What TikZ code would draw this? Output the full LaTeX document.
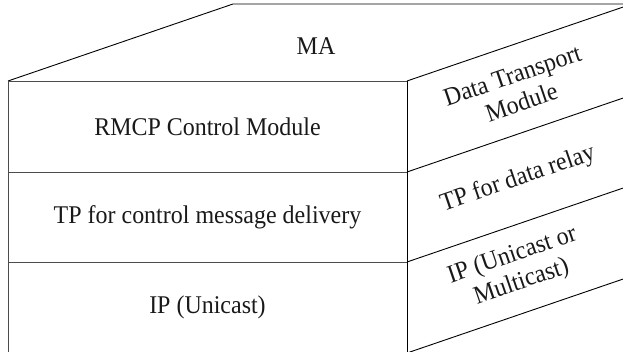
\documentclass[tikz,border=0pt]{standalone}
\usepackage{fontspec}
\setmainfont{Liberation Serif}[FakeStretch=0.94]
\begin{document}
\begin{tikzpicture}[x=1pt,y=-1pt,
  edge/.style={draw=black, line width=0.9pt},
  softedge/.style={draw=black!70, line width=0.9pt},
  label/.style={font=\fontsize{25.5}{28.5}\selectfont, inner sep=0pt, align=center, text=black!90}]
  \useasboundingbox (0,0) rectangle (623,352);
  \clip (0,0) rectangle (623,352);

  % depth vector of the block: (225,-77)
  \coordinate (ftl) at (8,81);
  \coordinate (ftr) at (407,81);
  \coordinate (fbl) at (8,353);
  \coordinate (fbr) at (407,353);
  \coordinate (f1l) at (8,172);
  \coordinate (f1r) at (407,172);
  \coordinate (f2l) at (8,262);
  \coordinate (f2r) at (407,262);
  \coordinate (btl) at (233,4);
  \coordinate (btr) at (632,4);
  \coordinate (b1r) at (632,95);
  \coordinate (b2r) at (632,185);
  \coordinate (bbr) at (632,276);

  % top face
  \draw[edge] (ftl) -- (btl) -- (btr);
  \draw[edge] (ftr) -- (btr);
  % front face
  \draw[softedge] (ftl) -- (ftr);
  \draw[softedge] (ftl) -- (fbl);
  \draw[edge] (ftr) -- (fbr);
  \draw[softedge] (f1l) -- (f1r);
  \draw[softedge] (f2l) -- (f2r);
  % right face layer boundaries
  \draw[edge] (f1r) -- (b1r);
  \draw[edge] (f2r) -- (b2r);
  \draw[edge] (fbr) -- (bbr);

  % labels
  \node[label] (ma) at (316,46) {MA};
  \node[label] (rmcp) at (207.5,127) {RMCP Control Module};
  \node[label] (tpc) at (207.5,217) {TP for control message delivery};
  \node[label] (ipu) at (207.5,307) {IP (Unicast)};
  \node[label, rotate=18.9] (dtm) at (517,89) {Data Transport\\Module};
  \node[label, rotate=18.9] (tpd) at (518,179) {TP for data relay};
  \node[label, rotate=18.9] (ipm) at (517,269) {IP (Unicast or\\Multicast)};
\end{tikzpicture}
\end{document}
